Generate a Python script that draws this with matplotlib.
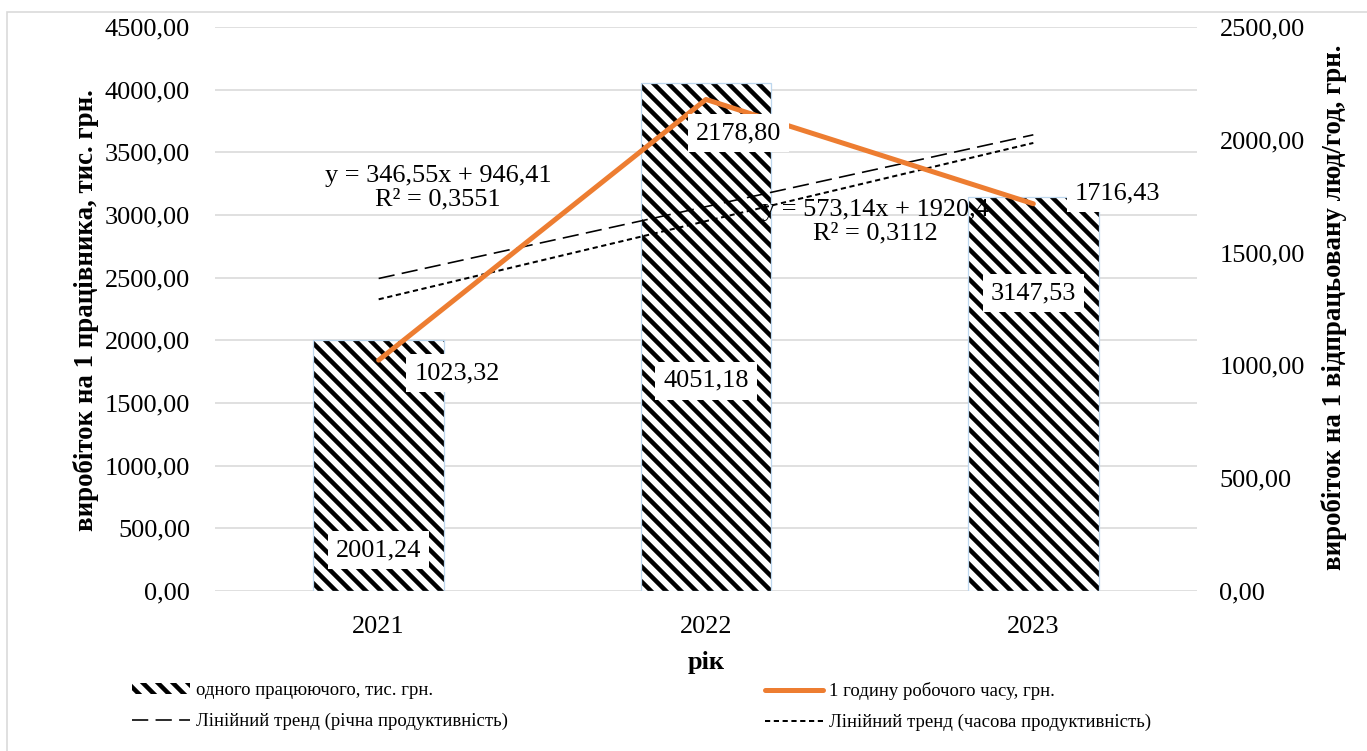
import numpy as np
import matplotlib
matplotlib.use("Agg")
import matplotlib.pyplot as plt
from matplotlib.patches import Patch, Rectangle
from matplotlib.lines import Line2D
from matplotlib.ticker import FuncFormatter, MultipleLocator

# ---------------- data ----------------
years = ["2021", "2022", "2023"]
per_worker = [2001.24, 4051.18, 3147.53]      # тис. грн (left axis, bars)
per_hour = [1023.32, 2178.80, 1716.43]        # грн (right axis, line)

bar_label_text = ["2001,24", "4051,18", "3147,53"]
line_label_text = ["1023,32", "2178,80", "1716,43"]
eq_annual = "y = 573,14x + 1920,4\nR² = 0,3112"
eq_hour = "y = 346,55x + 946,41\nR² = 0,3551"

legend_bar = "одного працюючого, тис. грн."
legend_line = "1 годину робочого часу, грн."
legend_tr1 = "Лінійний тренд (річна продуктивність)"
legend_tr2 = "Лінійний тренд (часова продуктивність)"

ylabel_left = "виробіток на 1 працівника, тис. грн."
ylabel_right = "виробіток на 1 відпрацьовану люд/год, грн."
xlabel = "рік"

# ---------------- style ----------------
DPI = 90
W, H = 1367, 751
plt.rcParams['font.family'] = ['Liberation Serif', 'DejaVu Serif']
plt.rcParams['hatch.linewidth'] = 3.6
ORANGE = "#ED7D31"
GRID = "#D9D9D9"
EDGE = "#BDD7EE"
FS = 21
HATCH = "\\\\"

fig = plt.figure(figsize=(W / DPI, H / DPI), dpi=DPI)
ax1 = fig.add_axes([215 / W, 1 - 591 / H, (1197 - 215) / W, (591 - 27) / H])
ax2 = ax1.twinx()

x = np.arange(len(years))

# bars (hatched)
ax1.bar(x, per_worker, width=0.4, color="white", edgecolor="black",
        hatch=HATCH, linewidth=0, zorder=2)
ax1.bar(x, per_worker, width=0.4, fill=False, edgecolor=EDGE,
        linewidth=1.0, zorder=2.1)

# trend lines (fitted on 1..3 as in Excel)
t = x + 1
c1 = np.polyfit(t, per_worker, 1)
c2 = np.polyfit(t, per_hour, 1)
ax1.plot(x, np.polyval(c1, t), color="black", lw=1.3,
         linestyle=(0, (10, 4.5)), zorder=3)
ax2.plot(x, np.polyval(c2, t), color="black", lw=1.6,
         linestyle=(0, (2.6, 1.8)), zorder=3)

# line
ax2.plot(x, per_hour, color=ORANGE, lw=4, solid_capstyle="round", zorder=4)

# axes setup
ax1.set_xlim(-0.5, 2.5)
ax1.set_ylim(0, 4500)
ax2.set_ylim(0, 2500)
ax1.yaxis.set_major_locator(MultipleLocator(500))
ax2.yaxis.set_major_locator(MultipleLocator(500))
fmt = FuncFormatter(lambda v, p: f"{v:.2f}".replace(".", ","))
ax1.yaxis.set_major_formatter(fmt)
ax2.yaxis.set_major_formatter(fmt)
ax1.set_xticks(x)
ax1.set_xticklabels(years)
ax1.grid(axis="y", color=GRID, lw=1.3, zorder=0)
ax1.set_axisbelow(True)
for a in (ax1, ax2):
    for s in a.spines.values():
        s.set_visible(False)
    a.tick_params(length=0, labelsize=FS)
ax1.tick_params(axis="y", pad=20)
ax2.tick_params(axis="y", pad=18)
ax1.tick_params(axis="x", pad=20)

# data labels
bbox = dict(boxstyle="square,pad=0.3", fc="white", ec="none")
bar_label_y = [327, 1676, 2378]
for xi, yv, s in zip(x, bar_label_y, bar_label_text):
    ax2.text(xi, yv, s, transform=ax1.transData, ha="center", va="center",
             fontsize=FS, bbox=bbox, zorder=6)
line_label_pos = [(0.239, 966), (1.098, 2030), (2.258, 1764)]
for (px, py), s in zip(line_label_pos, line_label_text):
    ax2.text(px, py, s, ha="center", va="center", fontsize=FS, bbox=bbox,
             zorder=6)

# trend equations
ax2.text(0.181, 3215, eq_hour, transform=ax1.transData, ha="center",
         va="center", fontsize=FS, linespacing=1.1, zorder=6)
ax2.text(1.516, 2944, eq_annual, transform=ax1.transData, ha="center",
         va="center", fontsize=FS, linespacing=1.1, zorder=6)

# axis labels
fig.text(86 / W, 1 - 310 / H, ylabel_left, rotation=90, ha="center",
         va="center", fontsize=21.5, fontweight="bold")
fig.text(1334 / W, 1 - 307 / H, ylabel_right, rotation=90, ha="center",
         va="center", fontsize=21.5, fontweight="bold")
fig.text(706 / W, 1 - 662 / H, xlabel, ha="center", va="center",
         fontsize=FS, fontweight="bold")

# legends
h_bar = Patch(facecolor="white", edgecolor="black", hatch=HATCH, linewidth=0)
h_tr1 = Line2D([], [], color="black", lw=1.3, linestyle=(0, (10, 4.5)))
h_line = Line2D([], [], color=ORANGE, lw=4, solid_capstyle="round")
h_tr2 = Line2D([], [], color="black", lw=1.6, linestyle=(0, (2.6, 1.8)))
common = dict(frameon=False, fontsize=15, borderpad=0, borderaxespad=0,
              handlelength=3.1, handletextpad=0.3, labelspacing=0.72,
              handleheight=0.5, loc="upper left")
fig.legend([h_bar, h_tr1], [legend_bar, legend_tr1],
           bbox_to_anchor=(132 / W, 1 - 682 / H), **common)
fig.legend([h_line, h_tr2], [legend_line, legend_tr2],
           bbox_to_anchor=(765 / W, 1 - 682 / H), **common)

# outer border
fig.patches.append(Rectangle((7 / W, -0.05), 1.2, 1 - 12 / H + 0.05,
                             transform=fig.transFigure, fill=False,
                             edgecolor=GRID, lw=1.3))

fig.savefig("out.png", dpi=DPI)
